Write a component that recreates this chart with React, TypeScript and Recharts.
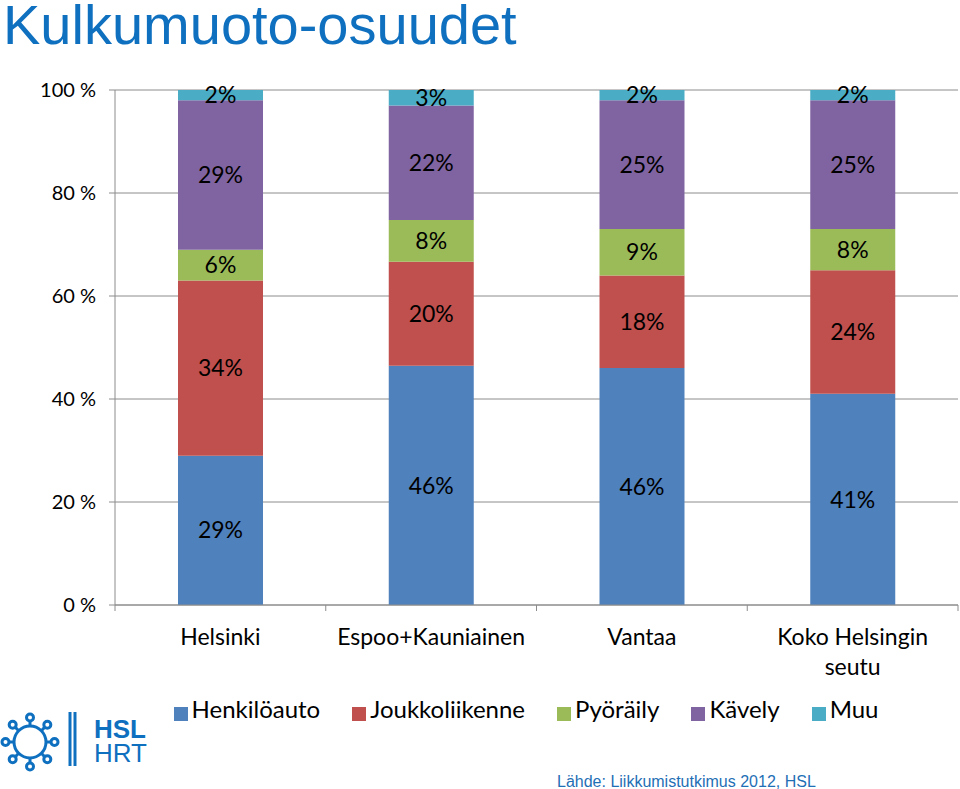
import React from "react";
import { BarChart, Bar, XAxis, YAxis, CartesianGrid, Legend, LabelList } from "recharts";

const categories = ["Helsinki", "Espoo+Kauniainen", "Vantaa", "Koko Helsingin seutu"];
const henkiloauto = [29, 46, 46, 41];
const joukkoliikenne = [34, 20, 18, 24];
const pyoraily = [6, 8, 9, 8];
const kavely = [29, 22, 25, 25];
const muu = [2, 3, 2, 2];
const yTicks = [0, 0.2, 0.4, 0.6, 0.8, 1];

const series = [
  { key: "henkiloauto", name: "Henkilöauto", color: "#4F81BD", values: henkiloauto },
  { key: "joukkoliikenne", name: "Joukkoliikenne", color: "#C0504D", values: joukkoliikenne },
  { key: "pyoraily", name: "Pyöräily", color: "#9BBB59", values: pyoraily },
  { key: "kavely", name: "Kävely", color: "#8064A2", values: kavely },
  { key: "muu", name: "Muu", color: "#4BACC6", values: muu },
];

const data = categories.map((name, i) => {
  const row: Record<string, any> = { name };
  series.forEach((s) => (row[s.key] = s.values[i]));
  return row;
});

const FONT = "Lato, 'Open Sans', sans-serif";
const AXIS = "#8c8c8c";
const BLUE = "#0F70C0";

// wrap a label into lines of at most ~15 characters
function wrap(text: string) {
  const lines: string[] = [];
  text.split(" ").forEach((w) => {
    const last = lines[lines.length - 1];
    if (last !== undefined && (last + " " + w).length <= 15) lines[lines.length - 1] = last + " " + w;
    else lines.push(w);
  });
  return lines;
}

// category label plus Excel-style tick marks between the categories
const CategoryTick = ({ x, y, payload, width, visibleTicksCount, index }: any) => {
  const half = width / visibleTicksCount / 2;
  return (
    <g>
      <line x1={x - half} x2={x - half} y1={y} y2={y + 6} stroke={AXIS} />
      {index === visibleTicksCount - 1 && <line x1={x + half} x2={x + half} y1={y} y2={y + 6} stroke={AXIS} />}
      <text x={x} y={y + 40} textAnchor="middle" fill="#000" fontSize={23} fontFamily={FONT}>
        {wrap(payload.value).map((l, i) => (
          <tspan key={i} x={x} dy={i === 0 ? 0 : 30}>
            {l}
          </tspan>
        ))}
      </text>
    </g>
  );
};

function Logo() {
  const nodes = [0, 1, 2, 3, 4, 5, 6, 7].map((k) => (k * Math.PI) / 4);
  return (
    <svg width={160} height={90} style={{ position: "absolute", left: 0, top: 695 }}>
      <g stroke={BLUE} strokeWidth={3} fill="none">
        <circle cx={30} cy={47} r={16} />
        {nodes.map((a, i) => (
          <g key={i}>
            <line x1={30 + 16 * Math.sin(a)} y1={47 - 16 * Math.cos(a)} x2={30 + 21 * Math.sin(a)} y2={47 - 21 * Math.cos(a)} />
            <circle cx={30 + 24.5 * Math.sin(a)} cy={47 - 24.5 * Math.cos(a)} r={3.5} />
          </g>
        ))}
        <line x1={70} y1={17} x2={70} y2={71} />
        <line x1={75} y1={17} x2={75} y2={71} />
      </g>
      <text fill={BLUE} fontFamily="'Liberation Sans', Arial, sans-serif" fontSize={26}>
        <tspan x={94} y={43} fontWeight="bold">
          HSL
        </tspan>
        <tspan x={94} y={67}>
          HRT
        </tspan>
      </text>
    </svg>
  );
}

export default function App() {
  return (
    <div style={{ position: "absolute", left: 0, top: 0, width: 960, height: 789, background: "#fff", overflow: "hidden" }}>
      <div
        style={{
          position: "absolute",
          left: 3,
          top: 0,
          fontFamily: "'Liberation Sans', Arial, sans-serif",
          fontSize: 56,
          lineHeight: "50px",
          color: BLUE,
          whiteSpace: "nowrap",
        }}
      >
        Kulkumuoto-osuudet
      </div>
      <BarChart
        width={960}
        height={789}
        data={data}
        stackOffset="expand"
        margin={{ top: 90, right: 2, left: 0, bottom: 104 }}
        style={{ position: "absolute", left: 0, top: 0 }}
      >
        <CartesianGrid vertical={false} stroke={AXIS} />
        <XAxis
          dataKey="name"
          stroke={AXIS}
          tickLine={false}
          height={80}
          tickSize={0}
          tickMargin={0}
          interval={0}
          tick={<CategoryTick />}
        />
        <YAxis
          width={115}
          domain={[0, 1]}
          ticks={yTicks}
          tickFormatter={(v: number) => `${Math.round(v * 100)} %`}
          stroke={AXIS}
          tickSize={6}
          tickMargin={13}
          tick={{ fill: "#000", fontSize: 20, fontFamily: FONT }}
        />
        <Legend
          layout="horizontal"
          verticalAlign="middle"
          align="center"
          iconType="square"
          iconSize={14}
          itemSorter={(item: any) => series.findIndex((s) => s.name === item.value)}
          wrapperStyle={{ top: 694, left: 62, width: 960 }}
          formatter={(value: string) => (
            <span style={{ color: "#000", fontSize: 24, fontFamily: FONT, marginRight: 22 }}>{value}</span>
          )}
        />
        {series.map((s) => (
          <Bar key={s.key} dataKey={s.key} name={s.name} stackId="a" fill={s.color} barSize={85} isAnimationActive={false}>
            <LabelList
              dataKey={s.key}
              position="center"
              formatter={(v: any) => `${v}%`}
              style={{ fill: "#000", fontSize: 23, fontFamily: FONT }}
            />
          </Bar>
        ))}
      </BarChart>
      <Logo />
      <div
        style={{
          position: "absolute",
          left: 557,
          top: 773,
          fontFamily: "'Liberation Sans', Arial, sans-serif",
          fontSize: 16,
          color: "#1F6FB5",
          whiteSpace: "nowrap",
        }}
      >
        Lähde: Liikkumistutkimus 2012, HSL
      </div>
    </div>
  );
}
